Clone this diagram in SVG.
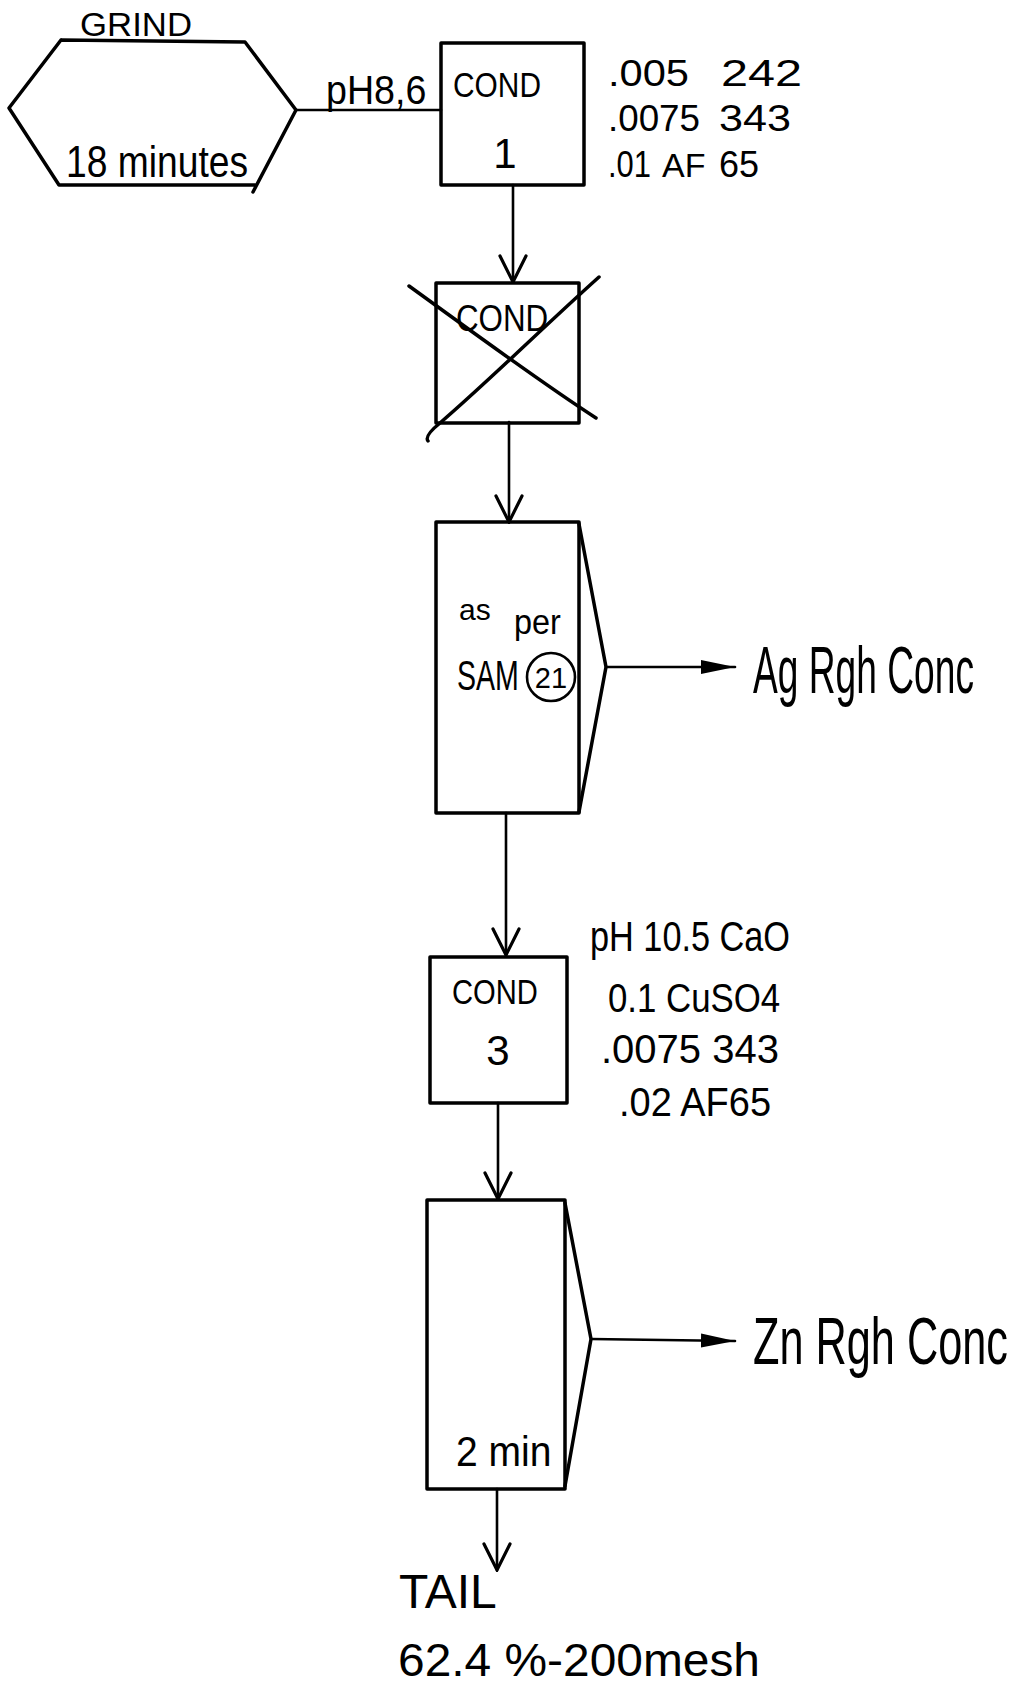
<svg xmlns="http://www.w3.org/2000/svg" width="1016" height="1687" viewBox="0 0 1016 1687">
<style>
.sh{fill:none;stroke:#000;stroke-width:3.5;stroke-linejoin:round;stroke-linecap:round}
.ln{fill:none;stroke:#000;stroke-width:2.6;stroke-linecap:round}
.t{font-family:"Liberation Sans",Arial,sans-serif;fill:#000}
</style>
<defs>
<marker id="v" viewBox="0 0 30 30" refX="28" refY="15" markerWidth="30" markerHeight="30" markerUnits="userSpaceOnUse" orient="auto">
<path d="M2,2 L28,15 L2,28" fill="none" stroke="#000" stroke-width="3.2" stroke-linecap="round"/>
</marker>
<marker id="f" viewBox="0 0 36 16" refX="34" refY="8" markerWidth="36" markerHeight="16" markerUnits="userSpaceOnUse" orient="auto">
<path d="M0,1 L34,8 L0,15 Z" fill="#000"/>
</marker>
</defs>
<rect width="1016" height="1687" fill="#fff"/>

<g id="connectors">
<path class="ln" d="M296,110 L441,110"/>
<path class="ln" d="M513,185 L513,282" marker-end="url(#v)"/>
<path class="ln" d="M509,422 L509,522" marker-end="url(#v)"/>
<path class="ln" d="M606,667 L735,667" marker-end="url(#f)"/>
<path class="ln" d="M506,813 L506,955" marker-end="url(#v)"/>
<path class="ln" d="M498,1103 L498,1199" marker-end="url(#v)"/>
<path class="ln" d="M591,1339 L735,1341" marker-end="url(#f)"/>
<path class="ln" d="M497,1489 L497,1570" marker-end="url(#v)"/>
</g>

<g id="grind">
<path class="sh" d="M61,40 L245,42 L296,110 L253,192 M255,185 L59,185 L9,108 L61,40"/>
<text class="t" x="80" y="36" font-size="33" textLength="112" lengthAdjust="spacingAndGlyphs">GRIND</text>
<text class="t" transform="translate(66,177) scale(0.846,1)" font-size="44">18 minutes</text>
</g>

<g id="ph86">
<text class="t" transform="translate(326,104) scale(0.94,1)" font-size="40">pH8,6</text>
</g>

<g id="cond1">
<rect class="sh" x="441" y="43" width="143" height="142"/>
<text class="t" transform="translate(453,97) scale(0.83,1)" font-size="36">COND</text>
<text class="t" x="505" y="168" font-size="42" text-anchor="middle">1</text>
</g>

<g id="cond1-notes">
<text class="t" x="608" y="86" font-size="36" textLength="81" lengthAdjust="spacingAndGlyphs">.005</text>
<text class="t" x="721" y="86" font-size="36" textLength="81" lengthAdjust="spacingAndGlyphs">242</text>
<text class="t" x="608" y="131" font-size="36" textLength="92" lengthAdjust="spacingAndGlyphs">.0075</text>
<text class="t" x="719" y="131" font-size="36" textLength="72" lengthAdjust="spacingAndGlyphs">343</text>
<text class="t" x="608" y="177" font-size="36" textLength="43" lengthAdjust="spacingAndGlyphs">.01</text>
<text class="t" x="662" y="177" font-size="34">AF</text>
<text class="t" x="719" y="177" font-size="36" textLength="40" lengthAdjust="spacingAndGlyphs">65</text>
</g>

<g id="cond2-crossed">
<rect class="sh" x="436" y="283" width="143" height="140"/>
<text class="t" transform="translate(456,331) scale(0.87,1)" font-size="36">COND</text>
<path class="sh" d="M409,286 C470,330 540,382 596,418"/>
<path class="sh" d="M599,277 C540,330 490,380 440,423 Q424,436 428,441"/>
</g>

<g id="cell1">
<rect class="sh" x="436" y="522" width="143" height="291"/>
<path class="sh" d="M579,524 L606,667 L579,812"/>
<text class="t" x="459" y="620" font-size="30">as</text>
<text class="t" transform="translate(514,634) scale(0.9,1)" font-size="36">per</text>
<text class="t" transform="translate(457,690) scale(0.68,1)" font-size="42">SAM</text>
<circle class="ln" cx="551" cy="677" r="24"/>
<text class="t" x="551" y="688" font-size="29" text-anchor="middle">21</text>
</g>

<g id="ag-conc">
<text class="t" transform="translate(753,693) scale(0.563,1)" font-size="66">Ag Rgh Conc</text>
</g>

<g id="cond3">
<rect class="sh" x="430" y="957" width="137" height="146"/>
<text class="t" transform="translate(452,1004) scale(0.81,1)" font-size="36">COND</text>
<text class="t" x="498" y="1065" font-size="42" text-anchor="middle">3</text>
</g>

<g id="cond3-notes">
<text class="t" transform="translate(590,951) scale(0.816,1)" font-size="42">pH 10.5 CaO</text>
<text class="t" transform="translate(608,1012) scale(0.87,1)" font-size="40">0.1 CuSO4</text>
<text class="t" x="601" y="1063" font-size="40">.0075 343</text>
<text class="t" transform="translate(619,1116) scale(0.95,1)" font-size="40">.02 AF65</text>
</g>

<g id="cell2">
<rect class="sh" x="427" y="1200" width="138" height="289"/>
<path class="sh" d="M565,1203 L591,1339 L565,1486"/>
<text class="t" transform="translate(456,1466) scale(0.93,1)" font-size="42">2 min</text>
</g>

<g id="zn-conc">
<text class="t" transform="translate(753,1364) scale(0.656,1)" font-size="66">Zn Rgh Conc</text>
</g>

<g id="tail">
<text class="t" x="399" y="1608" font-size="48">TAIL</text>
<text class="t" x="398" y="1676" font-size="46" textLength="362" lengthAdjust="spacingAndGlyphs">62.4 %-200mesh</text>
</g>
</svg>
